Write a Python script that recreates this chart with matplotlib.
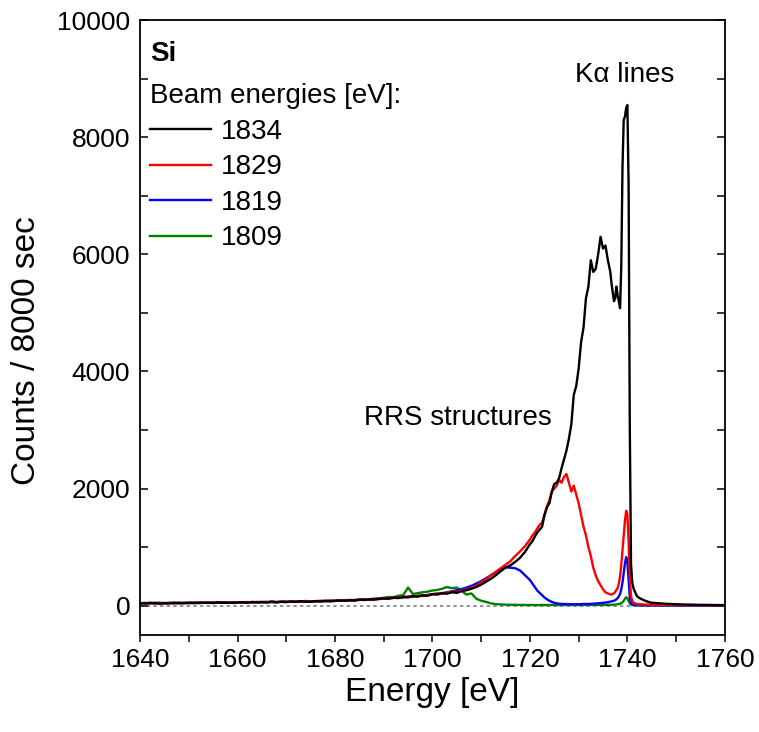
import numpy as np
import matplotlib
matplotlib.use("Agg")
import matplotlib.pyplot as plt
from matplotlib.ticker import MultipleLocator

plt.rcParams['font.family'] = ['Liberation Sans', 'DejaVu Sans']

# energy grid [eV]: coarse on the tail, finer around the RRS / K-alpha region
energy = np.concatenate([
    np.arange(1640, 1721, 1.0),        # 81 points
    np.arange(1720.5, 1736.01, 0.5),   # 32 points
    np.arange(1736.25, 1742.01, 0.25), # 24 points
    np.arange(1742.5, 1745.01, 0.5),   # 6 points
    np.arange(1746, 1761, 1.0),        # 15 points
])

# counts for each beam energy
counts_1834 = [
    45, 38, 50, 42, 35, 48, 40, 52, 44, 46,
    50, 43, 55, 47, 52, 45, 58, 50, 54, 48,
    55, 60, 52, 65, 58, 62, 55, 70, 60, 66,
    62, 72, 65, 78, 70, 68, 80, 74, 85, 76,
    82, 90, 86, 95, 88, 105, 98, 110, 104, 118,
    125, 120, 138, 130, 150, 142, 165, 155, 178, 170,
    200, 190, 215, 205, 230, 220, 250, 265, 290, 320,
    360, 410, 460, 520, 590, 650, 690, 750, 820, 920,
    1050,
    1100, 1180, 1250, 1300, 1350, 1550, 1680, 1750, 1950, 2080,
    2100, 2180, 2350, 2500, 2650, 2850, 3100, 3600, 3750, 4050,
    4500, 4750, 5250, 5450, 5900, 5700, 5750, 6000, 6300, 6100,
    6150, 5900,
    5800, 5700, 5500, 5350, 5200, 5250, 5450, 5300, 5200, 5080,
    5800, 7500, 8300, 8350, 8500, 8550, 7200, 3000, 700, 400,
    300, 250, 200, 160,
    130, 110, 90, 75, 60, 50,
    45, 38, 32, 28, 25, 22, 20, 18, 16, 15, 14, 12, 12, 10, 10,
]

counts_1829 = [
    40, 48, 42, 50, 45, 38, 50, 44, 52, 47,
    46, 54, 48, 52, 57, 50, 53, 60, 49, 56,
    58, 54, 63, 57, 66, 60, 68, 62, 58, 70,
    68, 64, 75, 70, 82, 73, 77, 84, 78, 90,
    85, 92, 88, 100, 94, 102, 112, 100, 118, 112,
    130, 126, 140, 135, 148, 158, 150, 172, 165, 185,
    195, 210, 205, 225, 240, 235, 260, 280, 310, 340,
    400, 450, 520, 580, 640, 700, 760, 850, 930, 1020,
    1130,
    1200, 1250, 1320, 1380, 1420, 1560, 1700, 1800, 1950, 2000,
    2050, 2150, 2100, 2200, 2250, 2100, 1950, 2050, 1900, 1750,
    1550, 1350, 1200, 1000, 850, 650, 520, 420, 350, 280,
    230, 210,
    200, 195, 190, 200, 210, 240, 270, 300, 380, 500,
    700, 950, 1200, 1450, 1620, 1560, 1100, 450, 160, 80,
    55, 42, 35, 30,
    26, 24, 22, 20, 18, 16,
    15, 14, 13, 12, 12, 11, 10, 10, 10, 9, 9, 8, 8, 8, 8,
]

counts_1819 = [
    42, 46, 40, 45, 50, 43, 47, 41, 48, 45,
    48, 51, 46, 55, 50, 53, 49, 57, 52, 55,
    56, 60, 57, 62, 59, 64, 61, 66, 63, 68,
    66, 70, 68, 74, 72, 77, 75, 80, 79, 84,
    84, 90, 88, 96, 94, 102, 100, 108, 110, 116,
    122, 128, 132, 140, 145, 152, 160, 166, 175, 182,
    195, 205, 215, 230, 245, 265, 285, 310, 340, 380,
    420, 470, 520, 570, 620, 655, 650, 640, 600, 520,
    440,
    380, 320, 260, 220, 180, 140, 110, 85, 65, 50,
    40, 35, 30, 30, 28, 25, 25, 25, 25, 25,
    28, 30, 30, 30, 32, 35, 38, 40, 45, 50,
    55, 60,
    65, 70, 75, 80, 85, 95, 110, 130, 160, 200,
    280, 400, 560, 720, 830, 750, 450, 150, 50, 25,
    15, 12, 10, 10,
    9, 8, 8, 7, 6, 6,
    6, 5, 5, 5, 5, 5, 5, 5, 5, 5, 5, 5, 5, 5, 5,
]

counts_1809 = [
    44, 40, 47, 43, 46, 41, 45, 48, 42, 46,
    47, 50, 45, 52, 48, 54, 50, 53, 49, 56,
    55, 58, 62, 56, 60, 63, 59, 65, 62, 67,
    65, 69, 72, 67, 75, 70, 78, 74, 80, 77,
    84, 88, 92, 90, 100, 97, 108, 112, 120, 125,
    135, 150, 145, 170, 180, 310, 200, 215, 230, 240,
    260, 270, 290, 320, 300, 310, 250, 190, 210, 120,
    85, 65, 40, 28, 22, 18, 16, 15, 14, 13,
    12,
    12, 12, 11, 12, 13, 12, 11, 12, 13, 12,
    12, 11, 12, 12, 13, 12, 12, 13, 12, 12,
    12, 13, 13, 12, 13, 13, 14, 13, 14, 14,
    15, 15,
    15, 16, 16, 17, 18, 20, 22, 25, 30, 35,
    45, 60, 85, 115, 145, 130, 80, 40, 20, 12,
    10, 8, 8, 7,
    6, 6, 6, 5, 5, 5,
    5, 5, 5, 5, 5, 5, 5, 5, 5, 5, 5, 5, 5, 5, 5,
]

beam_labels = ['1834', '1829', '1819', '1809']
series = [counts_1834, counts_1829, counts_1819, counts_1809]
colors = ['black', '#ff0000', '#0000ff', '#008000']

fig = plt.figure(figsize=(7.59, 7.32), dpi=100)
ax = fig.add_axes([0.1845, 0.1325, 0.7705, 0.840])

ax.axhline(0, color='gray', linestyle=(0, (2, 2)), linewidth=1.2, zorder=1)

handles = []
for lab, y, c in reversed(list(zip(beam_labels, series, colors))):
    h, = ax.plot(energy, y, color=c, linewidth=1.7, label=lab, zorder=2)
    handles.append(h)
handles = handles[::-1]

ax.set_xlim(1640, 1760)
ax.set_ylim(-500, 10000)
ax.xaxis.set_major_locator(MultipleLocator(20))
ax.xaxis.set_minor_locator(MultipleLocator(10))
ax.yaxis.set_major_locator(MultipleLocator(2000))
ax.yaxis.set_minor_locator(MultipleLocator(1000))
ax.tick_params(axis='x', which='both', direction='out', length=5, width=1.1,
               labelsize=19, pad=4)
ax.tick_params(axis='y', which='both', direction='in', length=6, width=1.1,
               labelsize=19, pad=7, right=True)
for s in ax.spines.values():
    s.set_linewidth(1.3)

ax.set_xlabel('Energy [eV]', fontsize=24, labelpad=4)
ax.set_ylabel('Counts / 8000 sec', fontsize=24)
ax.yaxis.set_label_coords(-0.168, 0.463)

ax.text(0.017, 0.945, 'Si', transform=ax.transAxes, fontsize=20,
        fontweight='bold', va='center', ha='left')
leg = ax.legend(handles=handles, title='Beam energies [eV]:', loc='upper left',
                bbox_to_anchor=(0.017, 0.897), frameon=False, fontsize=20,
                title_fontsize=20, alignment='left', borderpad=0,
                borderaxespad=0, handlelength=2.2, handletextpad=0.35,
                labelspacing=0.34)

ax.text(1739.5, 9060, 'K\u03b1 lines', fontsize=20, ha='center', va='center')
ax.text(1705.2, 3200, 'RRS structures', fontsize=20, ha='center', va='center')

fig.savefig('out.png', dpi=100)
